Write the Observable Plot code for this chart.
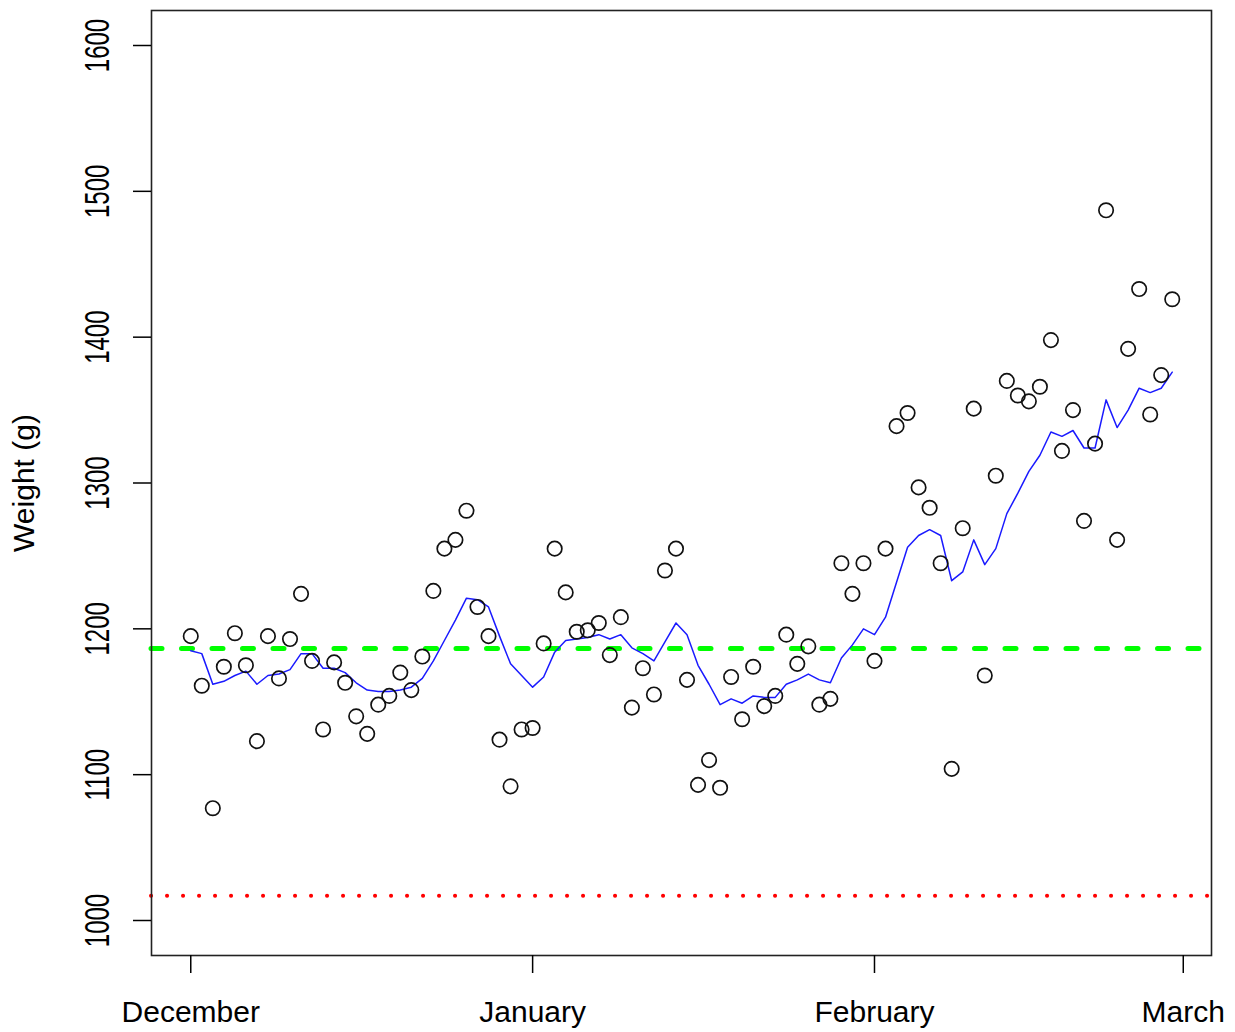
<!DOCTYPE html>
<html>
<head>
<meta charset="utf-8">
<script src="https://cdn.jsdelivr.net/npm/d3@7"></script>
<script src="https://cdn.jsdelivr.net/npm/@observablehq/plot@0.6"></script>
<style>
  body { margin: 0; background: #fff; }
  #chart svg { display: block; }
</style>
</head>
<body>
<div id="chart"></div>
<script>
// ---- data ----
const startDate = "2014-12-01";
const weights = [
  1195, 1161, 1077, 1174, 1197, 1175, 1123, 1195, 1166, 1193,
  1224, 1178, 1131, 1177, 1163, 1140, 1128, 1148, 1154, 1170,
  1158, 1181, 1226, 1255, 1261, 1281, 1215, 1195, 1124, 1092,
  1131, 1132, 1190, 1255, 1225, 1198, 1199, 1204, 1182, 1208,
  1146, 1173, 1155, 1240, 1255, 1165, 1093, 1110, 1091, 1167,
  1138, 1174, 1147, 1154, 1196, 1176, 1188, 1148, 1152, 1245,
  1224, 1245, 1178, 1255, 1339, 1348, 1297, 1283, 1245, 1104,
  1269, 1351, 1168, 1305, 1370, 1360, 1356, 1366, 1398, 1322,
  1350, 1274, 1327, 1487, 1261, 1392, 1433, 1347, 1374, 1426
];
const smoothed = [
  1185, 1183, 1162, 1164, 1168, 1171, 1162, 1168, 1169, 1172,
  1183, 1183, 1173, 1173, 1170, 1163, 1158, 1157, 1157, 1158,
  1160, 1166, 1178, 1192, 1206, 1221, 1220, 1215, 1195, 1176,
  1168, 1160, 1167, 1184, 1192, 1193, 1194, 1196, 1193, 1196,
  1187, 1183, 1178, 1191, 1204, 1196, 1175, 1162, 1148, 1152,
  1149, 1154, 1153, 1153, 1162, 1165, 1169, 1165, 1163, 1180,
  1189, 1200, 1196, 1208, 1232, 1256, 1264, 1268, 1264, 1233,
  1239, 1261, 1244, 1255, 1279, 1293, 1308, 1319, 1335, 1332,
  1336, 1324, 1324, 1357, 1338, 1350, 1365, 1362, 1365, 1376
];
const targetWeight = [1186.5];
const minimumWeight = [1017];
const monthTicks = ["2014-12-01", "2015-01-01", "2015-02-01", "2015-03-01"];
const monthLabels = ["December", "January", "February", "March"];
const yTicks = [1000, 1100, 1200, 1300, 1400, 1500, 1600];

// ---- table built from the arrays ----
const start = new Date(startDate + "T00:00:00Z");
const data = weights.map((w, i) => ({
  date: d3.utcDay.offset(start, i),
  weight: w,
  smooth: smoothed[i]
}));
const tickDates = monthTicks.map(s => new Date(s + "T00:00:00Z"));
const first = data[0].date, last = data[data.length - 1].date;
const pad = 0.04 * (last - first); // R's 4% axis extension
const xDomain = [new Date(+first - pad), new Date(+last + pad)];

const font = "'Liberation Sans', Arial, Helvetica, sans-serif";

const chart = Plot.plot({
  width: 1235,
  height: 1032,
  marginLeft: 151,
  marginRight: 24,
  marginTop: 10,
  marginBottom: 77,
  style: { fontFamily: font, background: "white", color: "black", overflow: "visible" },
  x: { type: "utc", domain: xDomain },
  y: { domain: [976, 1624] },
  marks: [
    Plot.ruleY(minimumWeight, {
      stroke: "#ff0000", strokeWidth: 4, strokeDasharray: "0.1,15.9", strokeLinecap: "round"
    }),
    Plot.ruleY(targetWeight, {
      stroke: "#00ff00", strokeWidth: 5, strokeDasharray: "11,19.5", strokeLinecap: "round"
    }),
    Plot.line(data, { x: "date", y: "smooth", stroke: "#1a1aff", strokeWidth: 1.5 }),
    Plot.dot(data, { x: "date", y: "weight", r: 7.2, stroke: "#111", strokeWidth: 1.7, fill: "none" }),
    Plot.frame({ stroke: "#222", strokeWidth: 1.6 }),
    Plot.axisX({
      ticks: tickDates,
      tickFormat: (d, i) => monthLabels[i],
      tickSize: 18,
      tickPadding: 27,
      fontSize: 30,
      strokeWidth: 1.5,
      label: null
    }),
    Plot.axisY({
      ticks: yTicks,
      tickFormat: d => String(d),
      tickSize: 18,
      tickPadding: 25,
      tickRotate: -90,
      fontSize: 24,
      strokeWidth: 1.5,
      label: "Weight (g)",
      labelAnchor: "center",
      labelArrow: "none",
      labelOffset: 139
    })
  ]
});

document.getElementById("chart").appendChild(chart);

// stretch rotated y tick labels to match the reference's tall digits
const svg = d3.select(chart);
svg.selectAll('g[aria-label="y-axis tick label"] text').each(function () {
  const t = this.getAttribute("transform") || "";
  if (!t.includes("scale")) this.setAttribute("transform", t + " scale(1,1.5)");
});
svg.selectAll('g[aria-label="y-axis label"]').attr("font-size", 30);
svg.selectAll('g[aria-label="y-axis label"] text').attr("font-size", 30);
</script>
</body>
</html>
